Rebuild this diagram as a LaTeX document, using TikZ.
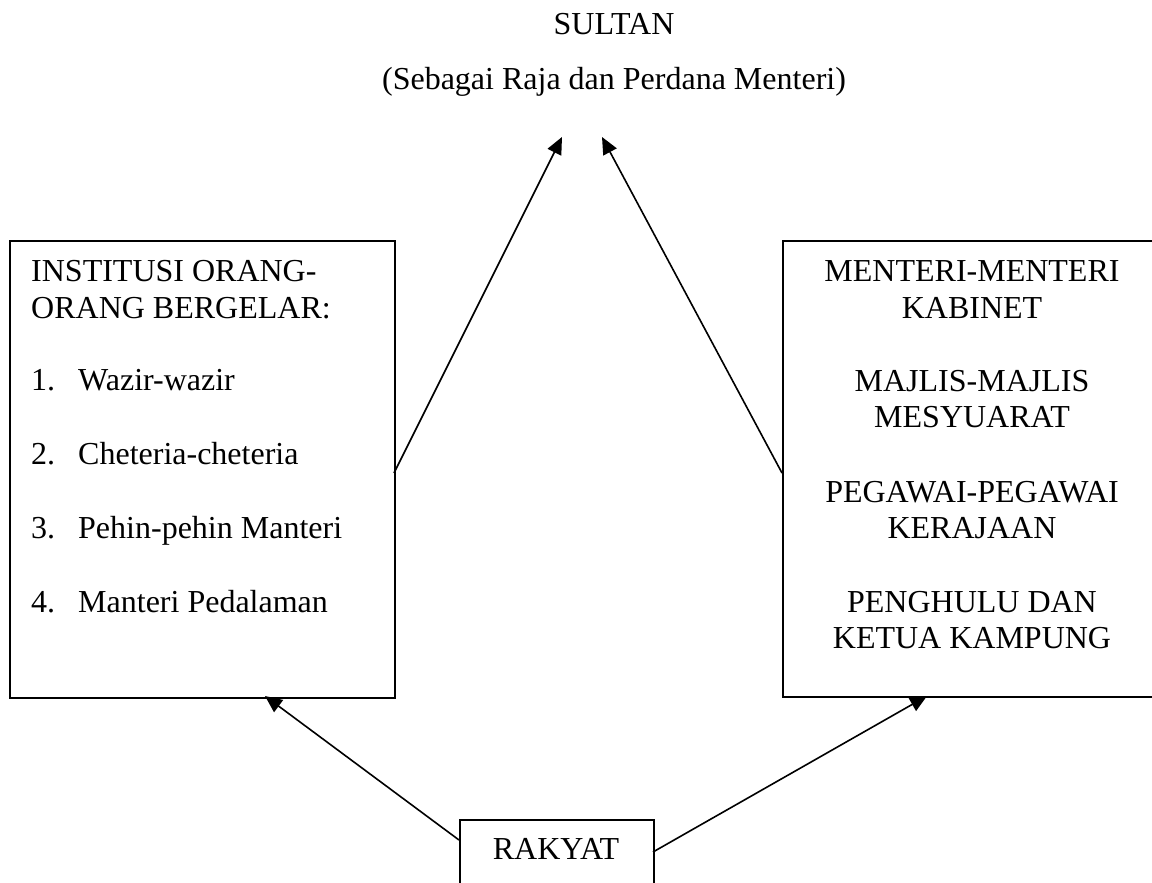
\documentclass[tikz,border=0pt]{standalone}
\usepackage{fontspec}
\setmainfont{Liberation Serif}
\usetikzlibrary{arrows.meta}
\begin{document}
\begin{tikzpicture}[x=1pt,y=-1pt,
  box/.style={draw,line width=1.6pt,rectangle,inner sep=0pt,anchor=north west},
  lbl/.style={inner sep=0pt,font=\fontsize{32}{38}\selectfont},
  arr/.style={line width=1.6pt,-{Triangle[length=17pt,width=15pt]}},
  con/.style={line width=1.6pt}]
\clip (0,0) rectangle (1152,883);
\fill[white] (0,0) rectangle (1152,883);
% title
\node[lbl,anchor=base] (sultan) at (614,35) {SULTAN};
\node[lbl,anchor=base] (sub) at (614,89) {(Sebagai Raja dan Perdana Menteri)};
% boxes
\node[box,minimum width=385pt,minimum height=457pt] (lbox) at (9,240) {};
\node[box,minimum width=380pt,minimum height=456pt] (rbox) at (782,240) {};
\node[box,minimum width=194pt,minimum height=80pt] (rakyat) at (459,819) {};
% left text
\node[lbl,anchor=base west] (l1) at (31,281) {INSTITUSI ORANG-};
\node[lbl,anchor=base west] (l2) at (31,318) {ORANG BERGELAR:};
\node[lbl,anchor=base west] (n1) at (31,390) {1.};
\node[lbl,anchor=base west] (t1) at (78,390) {Wazir-wazir};
\node[lbl,anchor=base west] (n2) at (31,464) {2.};
\node[lbl,anchor=base west] (t2) at (78,464) {Cheteria-cheteria};
\node[lbl,anchor=base west] (n3) at (31,538) {3.};
\node[lbl,anchor=base west] (t3) at (78,538) {Pehin-pehin Manteri};
\node[lbl,anchor=base west] (n4) at (31,612) {4.};
\node[lbl,anchor=base west] (t4) at (78,612) {Manteri Pedalaman};
% right text
\node[lbl,anchor=base] (r1) at (972,281) {MENTERI-MENTERI};
\node[lbl,anchor=base] (r2) at (972,318) {KABINET};
\node[lbl,anchor=base] (r3) at (972,391) {MAJLIS-MAJLIS};
\node[lbl,anchor=base] (r4) at (972,427) {MESYUARAT};
\node[lbl,anchor=base] (r5) at (972,502) {PEGAWAI-PEGAWAI};
\node[lbl,anchor=base] (r6) at (972,538) {KERAJAAN};
\node[lbl,anchor=base] (r7) at (972,612) {PENGHULU DAN};
\node[lbl,anchor=base] (r8) at (972,648) {KETUA KAMPUNG};
% rakyat text
\node[lbl,anchor=base] (rk) at (556,859) {RAKYAT};
% connector points
\coordinate (lst) at (394,473);
\coordinate (rst) at (782,473);
\coordinate (ltip) at (562,137);
\coordinate (rtip) at (602,137);
\coordinate (bl) at (459,840);
\coordinate (br) at (653,852);
\coordinate (lbt) at (265,696);
\coordinate (rbt) at (927,696);
% connectors
\draw[arr] (lst) -- (ltip);
\draw[arr] (rst) -- (rtip);
\draw[arr] (bl) -- (lbt);
\draw[arr] (br) -- (rbt);
\end{tikzpicture}
\end{document}
